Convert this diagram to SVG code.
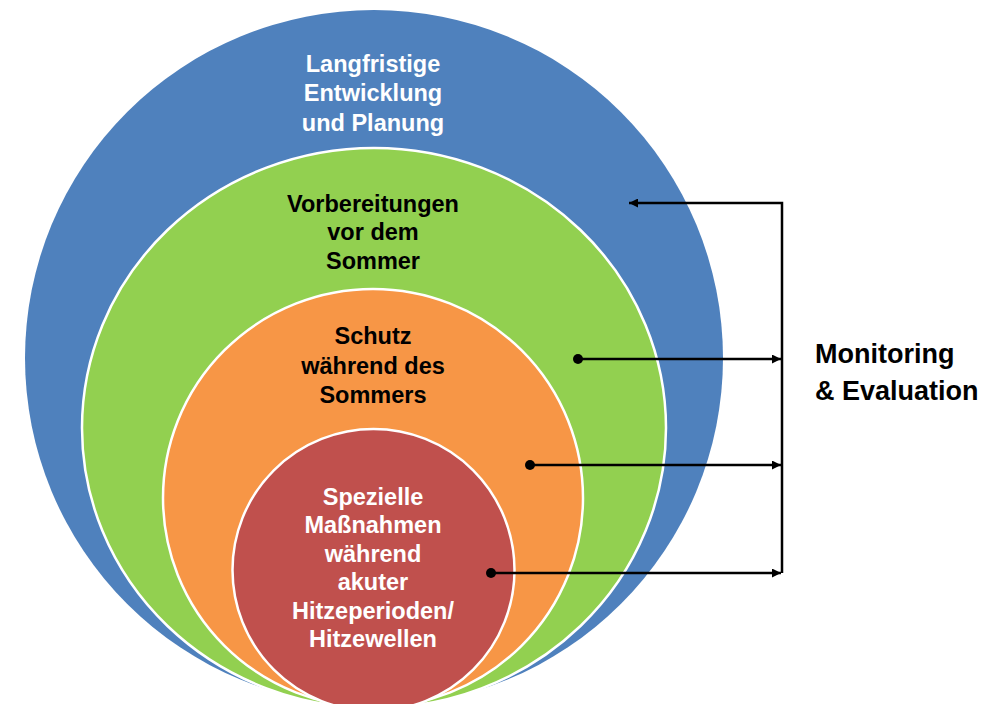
<svg xmlns="http://www.w3.org/2000/svg" width="999" height="704" viewBox="0 0 999 704">
<style>
.lbl{font-family:"Liberation Sans",Arial,sans-serif;font-weight:bold;font-size:23.5px;text-anchor:middle}
.w{fill:#ffffff}
.b{fill:#000000}
.ring{stroke:#ffffff;stroke-width:2.5}
.con{stroke:#000000;stroke-width:2.5;fill:none}
.me{font-family:"Liberation Sans",Arial,sans-serif;font-weight:bold;font-size:27px;fill:#000000}
</style>
<defs>
<marker id="ah" viewBox="0 0 10 10" refX="10" refY="5" markerWidth="4" markerHeight="3.6" markerUnits="strokeWidth" orient="auto">
<path d="M0,0 L10,5 L0,10 Z" fill="#000000"/>
</marker>
</defs>
<rect width="999" height="704" fill="#ffffff"/>
<g id="blue">
<ellipse cx="374" cy="358" rx="349" ry="348" fill="#4F81BD"/>
<text class="lbl w" x="373" y="72">Langfristige</text>
<text class="lbl w" x="373" y="101">Entwicklung</text>
<text class="lbl w" x="373" y="131">und Planung</text>
</g>
<g id="green">
<ellipse class="ring" cx="374" cy="428" rx="292" ry="280" fill="#92D050"/>
<text class="lbl b" x="373" y="212">Vorbereitungen</text>
<text class="lbl b" x="373" y="240">vor dem</text>
<text class="lbl b" x="373" y="269">Sommer</text>
</g>
<g id="orange">
<ellipse class="ring" cx="373" cy="498" rx="210" ry="209" fill="#F79646"/>
<text class="lbl b" x="373" y="344">Schutz</text>
<text class="lbl b" x="373" y="374">während des</text>
<text class="lbl b" x="373" y="403">Sommers</text>
</g>
<g id="red">
<ellipse class="ring" cx="373.5" cy="570" rx="141" ry="141" fill="#C0504D"/>
<text class="lbl w" x="373" y="505">Spezielle</text>
<text class="lbl w" x="373" y="533">Maßnahmen</text>
<text class="lbl w" x="373" y="562">während</text>
<text class="lbl w" x="373" y="590">akuter</text>
<text class="lbl w" x="373" y="619">Hitzeperioden/</text>
<text class="lbl w" x="373" y="647">Hitzewellen</text>
</g>
<g id="connectors">
<path class="con" d="M782,573 L782,203 L629,203" marker-end="url(#ah)"/>
<circle cx="578" cy="359" r="5" fill="#000000"/>
<path class="con" d="M578,359 L781,359" marker-end="url(#ah)"/>
<circle cx="530" cy="465" r="5" fill="#000000"/>
<path class="con" d="M530,465 L781,465" marker-end="url(#ah)"/>
<circle cx="491" cy="573" r="5" fill="#000000"/>
<path class="con" d="M491,573 L781,573" marker-end="url(#ah)"/>
</g>
<g id="monitoring">
<text class="me" x="815" y="363">Monitoring</text>
<text class="me" x="815" y="400">&amp; Evaluation</text>
</g>
</svg>
